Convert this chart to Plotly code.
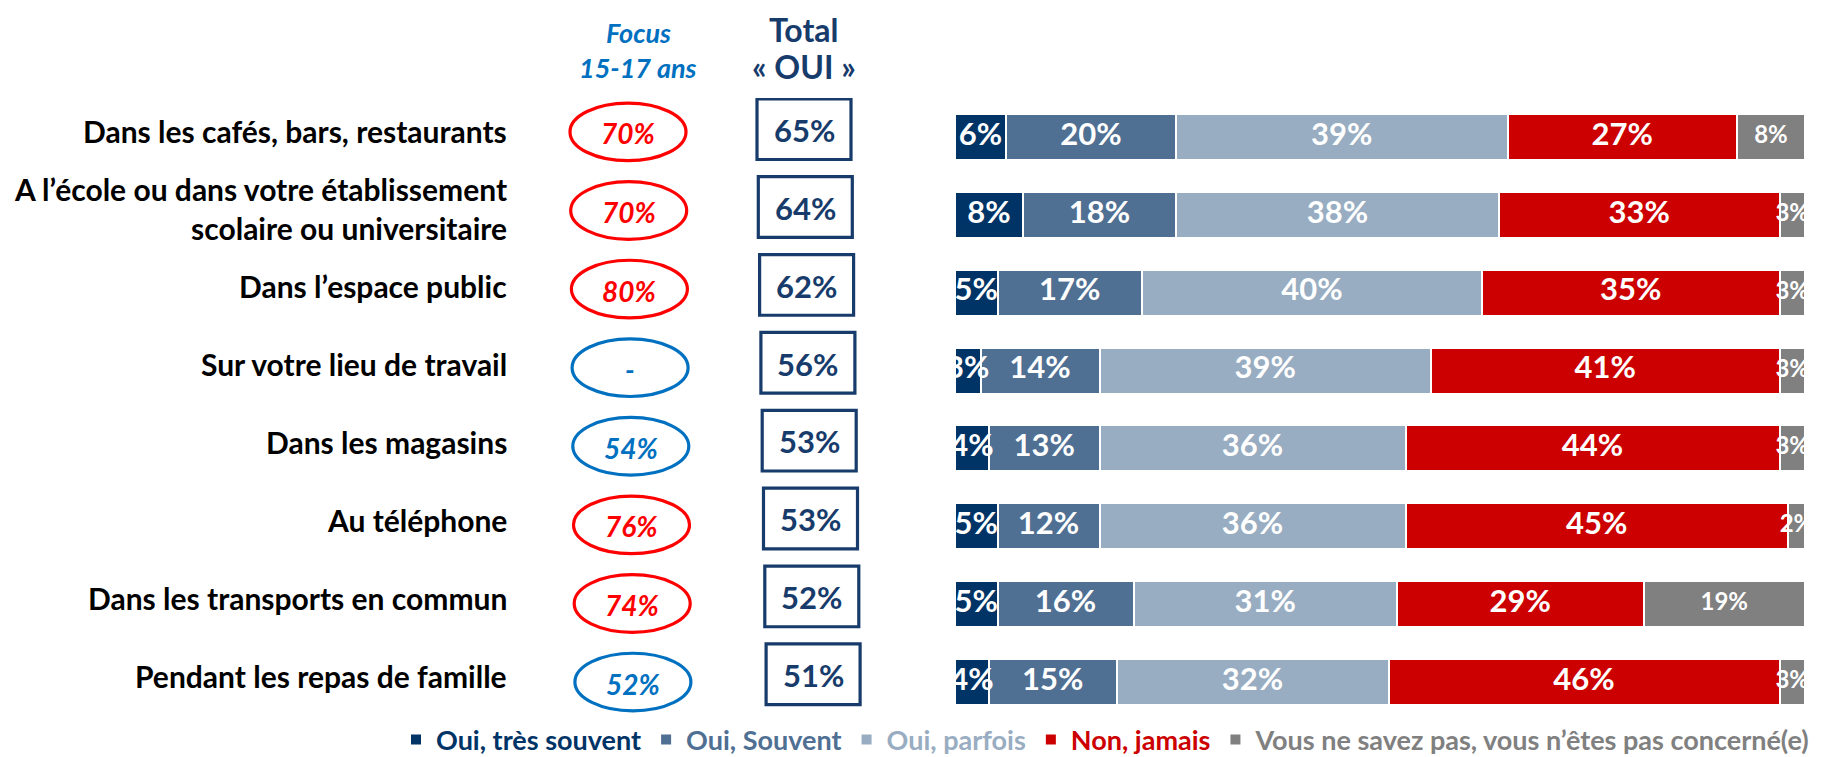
import numpy as np
import plotly.graph_objects as go

# ---------------- data ----------------
categories = [
    "Dans les cafés, bars, restaurants",
    "A l’école ou dans votre établissement<br>scolaire ou universitaire",
    "Dans l’espace public",
    "Sur votre lieu de travail",
    "Dans les magasins",
    "Au téléphone",
    "Dans les transports en commun",
    "Pendant les repas de famille",
]
series_names = [
    "Oui, très souvent",
    "Oui, Souvent",
    "Oui, parfois",
    "Non, jamais",
    "Vous ne savez pas, vous n’êtes pas concerné(e)",
]
oui_tres_souvent = [6, 8, 5, 3, 4, 5, 5, 4]
oui_souvent = [20, 18, 17, 14, 13, 12, 16, 15]
oui_parfois = [39, 38, 40, 39, 36, 36, 31, 32]
non_jamais = [27, 33, 35, 41, 44, 45, 29, 46]
ne_sait_pas = [8, 3, 3, 3, 3, 2, 19, 3]
total_oui = [65, 64, 62, 56, 53, 53, 52, 51]
focus_15_17 = [70, 70, 80, None, 54, 76, 74, 52]
focus_higher = [True, True, True, False, False, True, True, False]

# ---------------- style ----------------
OFF = 8                      # default page body margin
W, H = 1837 - OFF, 757 - OFF
FONT = "Lato, Roboto, sans-serif"
colors = ["#003366", "#4F6F93", "#98ADC1", "#CC0000", "#808080"]
text_sizes = [31, 31, 31, 31, 24]
NAVY = "#173B6B"
RED = "#FF0000"
BLUE = "#0070C0"


def px(v):
    return (v - OFF) / W


def py(v):
    return 1 - (v - OFF) / H


fig = go.Figure()
all_series = [oui_tres_souvent, oui_souvent, oui_parfois, non_jamais, ne_sait_pas]

# stacked bars
for name, vals, col in zip(series_names, all_series, colors):
    fig.add_trace(go.Bar(
        y=categories, x=vals, orientation="h",
        name=f"<span style='color:{col}'><b>{name}</b></span>",
        marker=dict(color=col, line=dict(color="white", width=2)),
        width=0.59, hoverinfo="skip",
    ))

# value labels drawn on top of all segments (centred in each segment)
stack = np.array(all_series, dtype=float)
ends = np.cumsum(stack, axis=0)
for k, (vals, ts) in enumerate(zip(all_series, text_sizes)):
    mids = ends[k] - stack[k] / 2
    fig.add_trace(go.Scatter(
        y=categories, x=mids, mode="text",
        text=[f"<b>{v}%</b>" for v in vals],
        textposition="middle center",
        textfont=dict(family=FONT, size=ts, color="white"),
        showlegend=False, hoverinfo="skip", cliponaxis=True,
    ))

shapes = []
annotations = []
n = len(categories)
for i, cat in enumerate(categories):
    # category label
    annotations.append(dict(
        x=px(509), xref="paper", y=i - 0.08, yref="y",
        text=f"<b>{cat}</b>", showarrow=False, xanchor="right", yanchor="middle",
        align="right", font=dict(family=FONT, size=30, color="black"),
    ))
    # focus ellipse
    c = RED if focus_higher[i] else BLUE
    fx = 628 + 0.7 * i
    fy = i - 0.065 * (1 - i / (n - 1))
    shapes.append(dict(
        type="circle", xref="paper", yref="y",
        x0=px(fx - 58), x1=px(fx + 58), y0=fy - 0.37, y1=fy + 0.37,
        line=dict(color=c, width=3.2), fillcolor="rgba(0,0,0,0)",
    ))
    ftxt = "-" if focus_15_17[i] is None else f"{focus_15_17[i]}%"
    annotations.append(dict(
        x=px(fx), xref="paper", y=fy + 0.02, yref="y",
        text=f"<b><i>{ftxt}</i></b>", showarrow=False, xanchor="center", yanchor="middle",
        font=dict(family=FONT, size=28, color=c),
    ))
    # total box
    bx = 804 + 1.3 * i
    by = i - 0.1
    shapes.append(dict(
        type="rect", xref="paper", yref="y",
        x0=px(bx - 47), x1=px(bx + 47), y0=by - 0.39, y1=by + 0.39,
        line=dict(color=NAVY, width=3.2), fillcolor="rgba(0,0,0,0)",
    ))
    annotations.append(dict(
        x=px(bx), xref="paper", y=by + 0.01, yref="y",
        text=f"<b>{total_oui[i]}%</b>", showarrow=False, xanchor="center", yanchor="middle",
        font=dict(family=FONT, size=31, color=NAVY),
    ))

# headers
annotations += [
    dict(x=px(638), xref="paper", y=py(33), yref="paper", text="<b><i>Focus</i></b>",
         showarrow=False, xanchor="center", yanchor="middle",
         font=dict(family=FONT, size=27, color=BLUE)),
    dict(x=px(638), xref="paper", y=py(67), yref="paper", text="<b><i>15-17 ans</i></b>",
         showarrow=False, xanchor="center", yanchor="middle",
         font=dict(family=FONT, size=27, color=BLUE)),
    dict(x=px(804), xref="paper", y=py(29), yref="paper", text="<b>Total</b>",
         showarrow=False, xanchor="center", yanchor="middle",
         font=dict(family=FONT, size=32, color=NAVY)),
    dict(x=px(804), xref="paper", y=py(66), yref="paper", text="<b>« OUI »</b>",
         showarrow=False, xanchor="center", yanchor="middle",
         font=dict(family=FONT, size=32, color=NAVY)),
]

fig.update_layout(
    width=W, height=H, autosize=False,
    margin=dict(l=0, r=0, t=0, b=0, autoexpand=False),
    paper_bgcolor="white", plot_bgcolor="white",
    barmode="stack", bargap=0,
    xaxis=dict(domain=[px(955), px(1805)], range=[0, 100], visible=False, fixedrange=True),
    yaxis=dict(domain=[py(721), py(98)], type="category",
               categoryorder="array", categoryarray=categories,
               range=[7.5, -0.5], visible=False, fixedrange=True),
    shapes=shapes, annotations=annotations,
    showlegend=True,
    legend=dict(orientation="h", x=px(396), xanchor="left", y=py(740), yanchor="middle",
                font=dict(family=FONT, size=27), traceorder="normal",
                bgcolor="rgba(0,0,0,0)", itemclick=False, itemdoubleclick=False),
    font=dict(family=FONT),
)

fig.write_html("out.html")
